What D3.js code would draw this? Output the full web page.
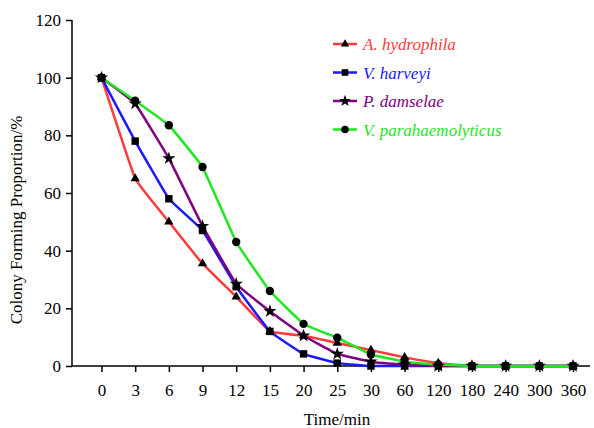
<!DOCTYPE html>
<html>
<head>
<meta charset="utf-8">
<script src="https://cdn.jsdelivr.net/npm/d3@7"></script>
<style>
  body { margin: 0; background: #fff; }
  #chart text { font-family: "Liberation Serif", "Times New Roman", Times, serif !important; }
</style>
</head>
<body>
<svg id="chart" width="594" height="428"></svg>
<script>
// time points (categorical)
const times = ["0", "3", "6", "9", "12", "15", "20", "25", "30", "60", "120", "180", "240", "300", "360"];
const yTicks = [0, 20, 40, 60, 80, 100, 120];

const hydrophila = [100, 65, 50, 35.5, 24, 12, 10.5, 8, 5.5, 3, 1, 0, 0, 0, 0];
const harveyi = [100, 78, 58, 47, 27.5, 12, 4.2, 1, 0, 0, 0, 0, 0, 0, 0];
const damselae = [100, 91, 72, 48.5, 28.5, 19, 10.5, 4.2, 1.5, 0.5, 0, 0, 0, 0, 0];
const parahaem = [100, 92, 83.5, 69, 43, 26, 14.6, 9.8, 4, 1.5, 0.5, 0, 0, 0, 0];

const series = [
    { name: "A. hydrophila", values: hydrophila, color: "#ff3b3b", symbol: d3.symbolTriangle, size: 38 },
    { name: "V. harveyi", values: harveyi, color: "#1a1aff", symbol: d3.symbolSquare, size: 55 },
    { name: "P. damselae", values: damselae, color: "#800080", symbol: d3.symbolStar, size: 55 },
    { name: "V. parahaemolyticus", values: parahaem, color: "#1ee81e", symbol: d3.symbolCircle, size: 55 }
];

const svg = d3.select("#chart");
const mLeft = 72, mRight = 590, mTop = 20, mBottom = 366;

const x = d3.scalePoint().domain(times).range([101.5, 573]);
const y = d3.scaleLinear().domain([0, 120]).range([mBottom, mTop]);

// Axes
const yAxis = d3.axisLeft(y).tickValues(yTicks).tickSize(6).tickPadding(5);
const gy = svg.append("g").attr("transform", `translate(${mLeft},0)`).call(yAxis);
gy.select(".domain").remove();
gy.append("line").attr("x1", 0).attr("x2", 0).attr("y1", mTop).attr("y2", mBottom)
    .attr("stroke", "#000").attr("stroke-width", 1.5);
gy.selectAll(".tick line").attr("stroke-width", 1.5);
gy.selectAll("text").attr("font-size", 17).attr("fill", "#000");

const xAxis = d3.axisBottom(x).tickSize(6).tickPadding(12);
const gx = svg.append("g").attr("transform", `translate(0,${mBottom})`).call(xAxis);
gx.select(".domain").remove();
gx.append("line").attr("x1", mLeft).attr("x2", mRight).attr("y1", 0).attr("y2", 0)
    .attr("stroke", "#000").attr("stroke-width", 1.5);
gx.selectAll(".tick line").attr("stroke-width", 1.5);
gx.selectAll("text").attr("font-size", 17).attr("fill", "#000");

// Axis titles
svg.append("text")
    .attr("x", 337).attr("y", 425)
    .attr("text-anchor", "middle").attr("font-size", 17)
    .text("Time/min");
svg.append("text")
    .attr("transform", "translate(22,220) rotate(-90)")
    .attr("text-anchor", "middle").attr("font-size", 17)
    .text("Colony Forming Proportion/%");

// Lines (lightly smoothed)
const line = d3.line()
    .x((d, i) => x(times[i]))
    .y(d => Math.min(y(d), mBottom))
    .curve(d3.curveCardinal.tension(0.75));

series.forEach(s => {
    svg.append("path")
        .datum(s.values)
        .attr("fill", "none")
        .attr("stroke", s.color)
        .attr("stroke-width", 2.5)
        .attr("d", line);
});

series.forEach(s => {
    svg.append("g").selectAll("path")
        .data(s.values)
        .join("path")
        .attr("transform", (d, i) => `translate(${x(times[i])},${y(d)})`)
        .attr("d", d3.symbol().type(s.symbol).size(s.size))
        .attr("fill", "#000");
});

// Legend
const legend = svg.append("g").attr("transform", "translate(333,44)");
series.forEach((s, i) => {
    const g = legend.append("g").attr("transform", `translate(0,${i * 28.5})`);
    g.append("line").attr("x1", 0).attr("x2", 24).attr("y1", 0).attr("y2", 0)
        .attr("stroke", s.color).attr("stroke-width", 2.5);
    g.append("path").attr("transform", "translate(12,0)")
        .attr("d", d3.symbol().type(s.symbol).size(s.size * 0.8)).attr("fill", "#000");
    g.append("text").attr("x", 30).attr("y", 6)
        .attr("font-size", 17).attr("font-style", "italic")
        .attr("fill", s.color).text(s.name);
});
</script>
</body>
</html>
